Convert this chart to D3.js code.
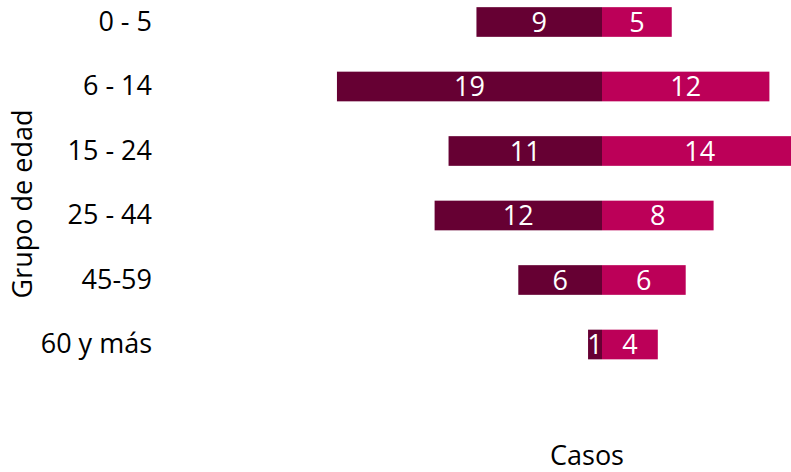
<!DOCTYPE html>
<html>
<head>
<meta charset="utf-8">
<script src="https://cdn.jsdelivr.net/npm/d3@7"></script>
<style>
  body { margin: 0; background: #fff; }
  svg { display: block; font-family: "Open Sans", sans-serif; }
</style>
</head>
<body>
<svg id="chart" width="791" height="472"></svg>
<script>
// age groups, top to bottom
var ages = ['0 - 5', '6 - 14', '15 - 24', '25 - 44', '45-59', '60 y más'];
// left side (dark) and right side (magenta) case counts
var casosIzq = [9, 19, 11, 12, 6, 1];
var casosDer = [5, 12, 14, 8, 6, 4];

var fontSize = '27px';
var svg = d3.select('#chart');

var x = d3.scaleLinear().domain([-20, 20]).range([323, 881]);
var y = d3.scaleBand().domain(ages).range([-10.25, 376.75])
    .paddingInner(0.54).paddingOuter(0.27);

var rows = ages.map(function(a, i) { return {age: a, izq: casosIzq[i], der: casosDer[i]}; });

// left bars
svg.selectAll('rect.izq').data(rows).enter().append('rect')
    .attr('class', 'izq')
    .attr('x', function(d) { return x(-d.izq); })
    .attr('y', function(d) { return y(d.age); })
    .attr('width', function(d) { return x(0) - x(-d.izq); })
    .attr('height', y.bandwidth())
    .attr('fill', '#660033');

// right bars
svg.selectAll('rect.der').data(rows).enter().append('rect')
    .attr('class', 'der')
    .attr('x', x(0))
    .attr('y', function(d) { return y(d.age); })
    .attr('width', function(d) { return x(d.der) - x(0); })
    .attr('height', y.bandwidth())
    .attr('fill', '#BC0058');

// value labels
svg.selectAll('text.vi').data(rows).enter().append('text')
    .attr('x', function(d) { return (x(-d.izq) + x(0)) / 2; })
    .attr('y', function(d) { return y(d.age) + y.bandwidth() / 2; })
    .attr('dy', '0.36em')
    .attr('text-anchor', 'middle')
    .attr('fill', '#fff')
    .style('font-size', fontSize)
    .text(function(d) { return d.izq; });

svg.selectAll('text.vd').data(rows).enter().append('text')
    .attr('x', function(d) { return (x(d.der) + x(0)) / 2; })
    .attr('y', function(d) { return y(d.age) + y.bandwidth() / 2; })
    .attr('dy', '0.36em')
    .attr('text-anchor', 'middle')
    .attr('fill', '#fff')
    .style('font-size', fontSize)
    .text(function(d) { return d.der; });

// category axis, no line or ticks
var yAxis = svg.append('g')
    .attr('transform', 'translate(160,0)')
    .call(d3.axisLeft(y).tickSize(0).tickPadding(8));
yAxis.select('.domain').remove();
yAxis.selectAll('text')
    .attr('fill', '#000')
    .style('font-family', '"Open Sans", sans-serif')
    .style('font-size', fontSize);

// axis titles
svg.append('text')
    .attr('transform', 'translate(32,204) rotate(-90)')
    .attr('text-anchor', 'middle')
    .style('font-size', fontSize)
    .text('Grupo de edad');

svg.append('text')
    .attr('x', 587)
    .attr('y', 465)
    .attr('text-anchor', 'middle')
    .style('font-size', fontSize)
    .text('Casos');
</script>
</body>
</html>
